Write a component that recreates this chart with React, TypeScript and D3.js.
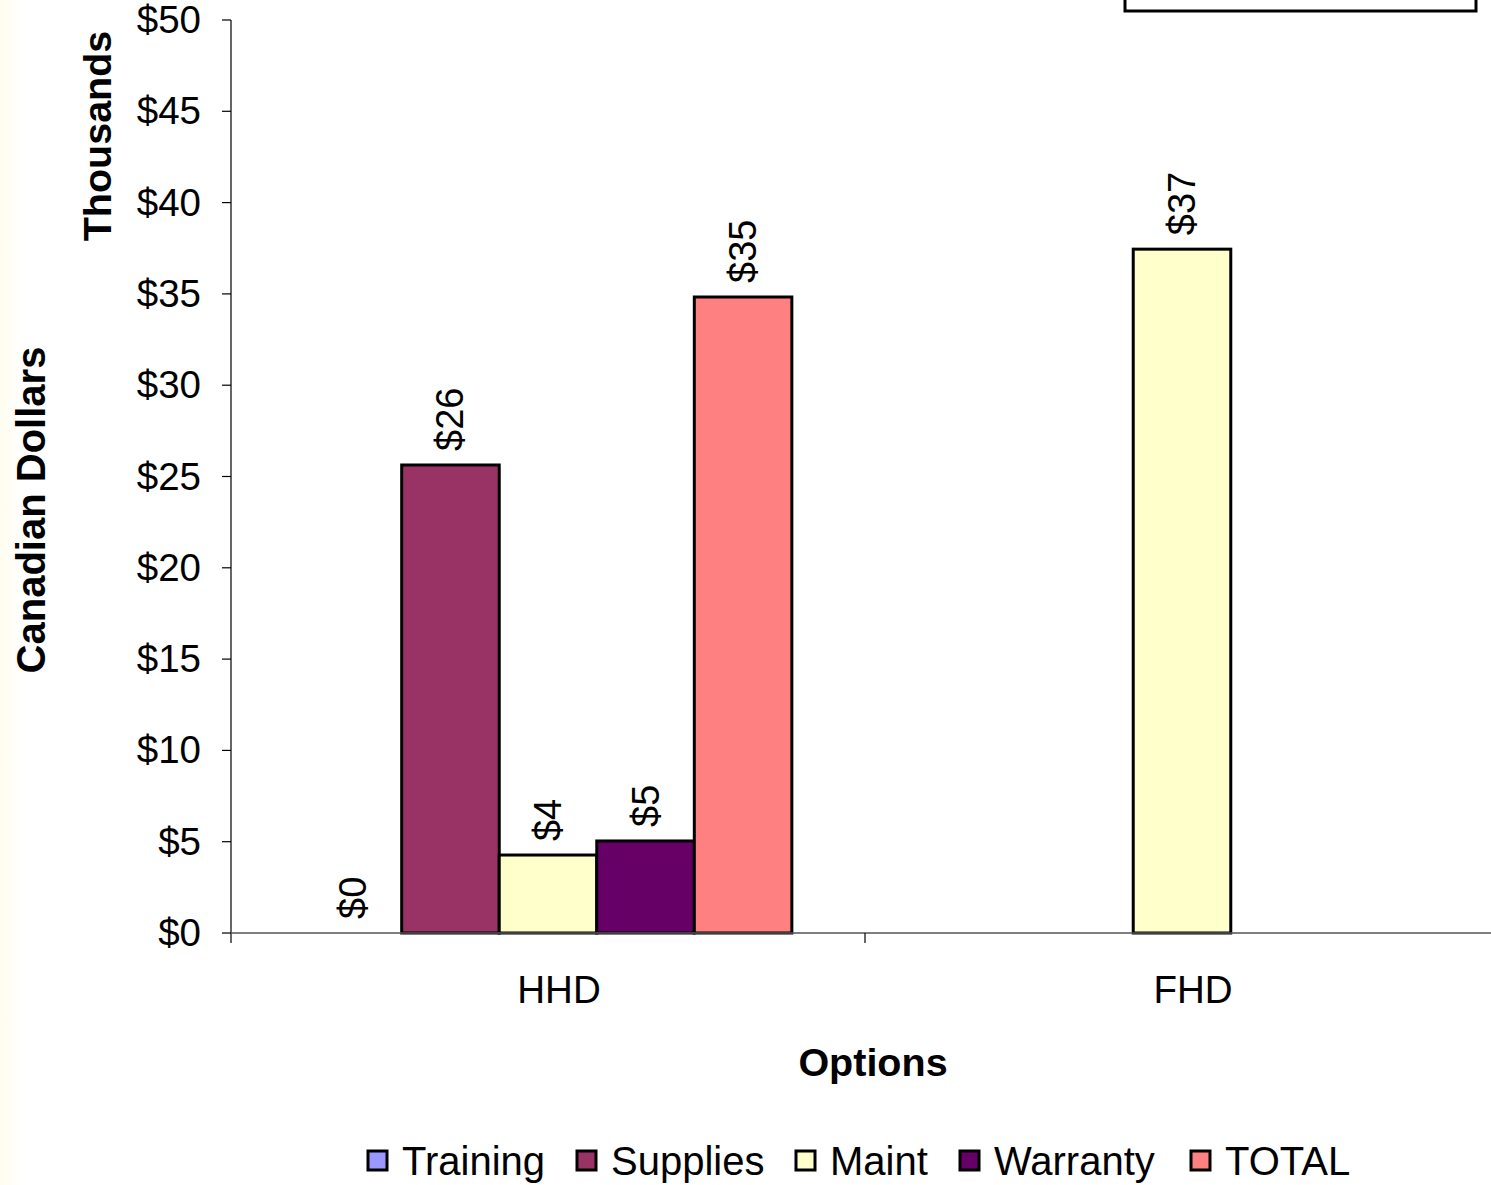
import { useEffect, useRef } from "react";
import * as d3 from "d3";

const options = ["HHD", "FHD"];
const series = ["Training", "Supplies", "Maint", "Warranty", "TOTAL"];
const colors = ["#9999ff", "#993366", "#ffffcc", "#660066", "#ff8080"];
// values in thousands of CAD, null = not plotted
const hhdValues = [0, 25.63, 4.27, 5.04, 34.83];
const fhdValues = [null, null, 37.45, null, null];
const yTicks = [0, 5, 10, 15, 20, 25, 30, 35, 40, 45, 50];

const W = 1491;
const H = 1185;
const FONT = "Arial, 'Liberation Sans', sans-serif";

export default function App() {
  const svgRef = useRef<SVGSVGElement>(null);

  useEffect(() => {
    const svg = d3.select(svgRef.current!);
    svg.selectAll("*").remove();

    const left = 231;
    const right = 1499;
    const top = 20;
    const bottom = 933;

    // faint yellow strip on the left edge
    const defs = svg.append("defs");
    const grad = defs.append("linearGradient").attr("id", "edge").attr("x1", 0).attr("x2", 1);
    grad.append("stop").attr("offset", 0).attr("stop-color", "#fffdee");
    grad.append("stop").attr("offset", 1).attr("stop-color", "#ffffff");
    svg.append("rect").attr("width", W).attr("height", H).attr("fill", "#fff");
    svg.append("rect").attr("width", 22).attr("height", H).attr("fill", "url(#edge)");

    const x0 = d3.scaleBand().domain(options).range([left, right]);
    const x1 = d3
      .scaleBand()
      .domain(series)
      .range([0, x0.bandwidth()])
      .paddingInner(0)
      .paddingOuter(0.75);
    const y = d3.scaleLinear().domain([0, 50]).range([bottom, top]);

    const rows = [
      { opt: "HHD", vals: hhdValues },
      { opt: "FHD", vals: fhdValues },
    ];

    // bars
    for (const row of rows) {
      const g = svg.append("g").attr("transform", `translate(${x0(row.opt)},0)`);
      row.vals.forEach((v, i) => {
        if (v === null) return;
        const bx = x1(series[i])!;
        if (v > 0) {
          g.append("rect")
            .attr("x", bx)
            .attr("y", y(v))
            .attr("width", x1.bandwidth())
            .attr("height", y(0) - y(v))
            .attr("fill", colors[i])
            .attr("stroke", "#000")
            .attr("stroke-width", 3);
        }
        const cx = bx + x1.bandwidth() / 2;
        const ty = y(v) - 14;
        g.append("text")
          .attr("transform", `translate(${cx + 13},${ty}) rotate(-90)`)
          .attr("font-family", FONT)
          .attr("font-size", 38)
          .attr("fill", "#000")
          .text(`$${Math.round(v)}`);
      });
    }

    // y axis
    const ya = svg.append("g").attr("stroke", "#000");
    ya.append("line").attr("x1", left).attr("x2", left).attr("y1", top).attr("y2", bottom + 10).attr("stroke-width", 1.2);
    for (const t of yTicks) {
      ya.append("line").attr("x1", left - 9).attr("x2", left).attr("y1", y(t)).attr("y2", y(t)).attr("stroke-width", 1.2);
      svg.append("text")
        .attr("x", 201)
        .attr("y", y(t) + 13)
        .attr("text-anchor", "end")
        .attr("font-family", FONT)
        .attr("font-size", 38.5)
        .text(`$${t}`);
    }

    // x axis
    svg.append("line")
      .attr("x1", left).attr("x2", right)
      .attr("y1", bottom).attr("y2", bottom)
      .attr("stroke", "#555").attr("stroke-width", 1.5);
    for (const o of options) {
      const bx = x0(o)! + x0.bandwidth();
      svg.append("line")
        .attr("x1", bx).attr("x2", bx)
        .attr("y1", bottom).attr("y2", bottom + 10)
        .attr("stroke", "#000").attr("stroke-width", 1.2);
      svg.append("text")
        .attr("x", x0(o)! + x0.bandwidth() / 2 + 11)
        .attr("y", 1003)
        .attr("text-anchor", "middle")
        .attr("font-family", FONT)
        .attr("font-size", 38.5)
        .text(o);
    }

    // axis titles
    svg.append("text")
      .attr("transform", `translate(111,136) rotate(-90)`)
      .attr("text-anchor", "middle")
      .attr("font-family", FONT)
      .attr("font-weight", "bold")
      .attr("font-size", 39.5)
      .text("Thousands");
    svg.append("text")
      .attr("transform", `translate(45,510) rotate(-90)`)
      .attr("text-anchor", "middle")
      .attr("font-family", FONT)
      .attr("font-weight", "bold")
      .attr("font-size", 40)
      .text("Canadian Dollars");
    svg.append("text")
      .attr("x", 873)
      .attr("y", 1076)
      .attr("text-anchor", "middle")
      .attr("font-family", FONT)
      .attr("font-weight", "bold")
      .attr("font-size", 39.5)
      .text("Options");

    // legend
    const legendX = [368, 577, 796, 960, 1191];
    series.forEach((s, i) => {
      const lg = svg.append("g").attr("transform", `translate(${legendX[i]},1151)`);
      lg.append("rect")
        .attr("width", 19).attr("height", 19)
        .attr("fill", colors[i]).attr("stroke", "#000").attr("stroke-width", 3);
      lg.append("text")
        .attr("x", 34)
        .attr("y", 24)
        .attr("font-family", FONT)
        .attr("font-size", 40)
        .text(s);
    });

    // title box cut off at top right
    svg.append("rect")
      .attr("x", 1125).attr("y", -40)
      .attr("width", 351).attr("height", 51)
      .attr("fill", "#fff").attr("stroke", "#000").attr("stroke-width", 3);
  }, []);

  return (
    <svg
      ref={svgRef}
      width={W}
      height={H}
      style={{ position: "absolute", left: 0, top: 0, display: "block" }}
    />
  );
}
